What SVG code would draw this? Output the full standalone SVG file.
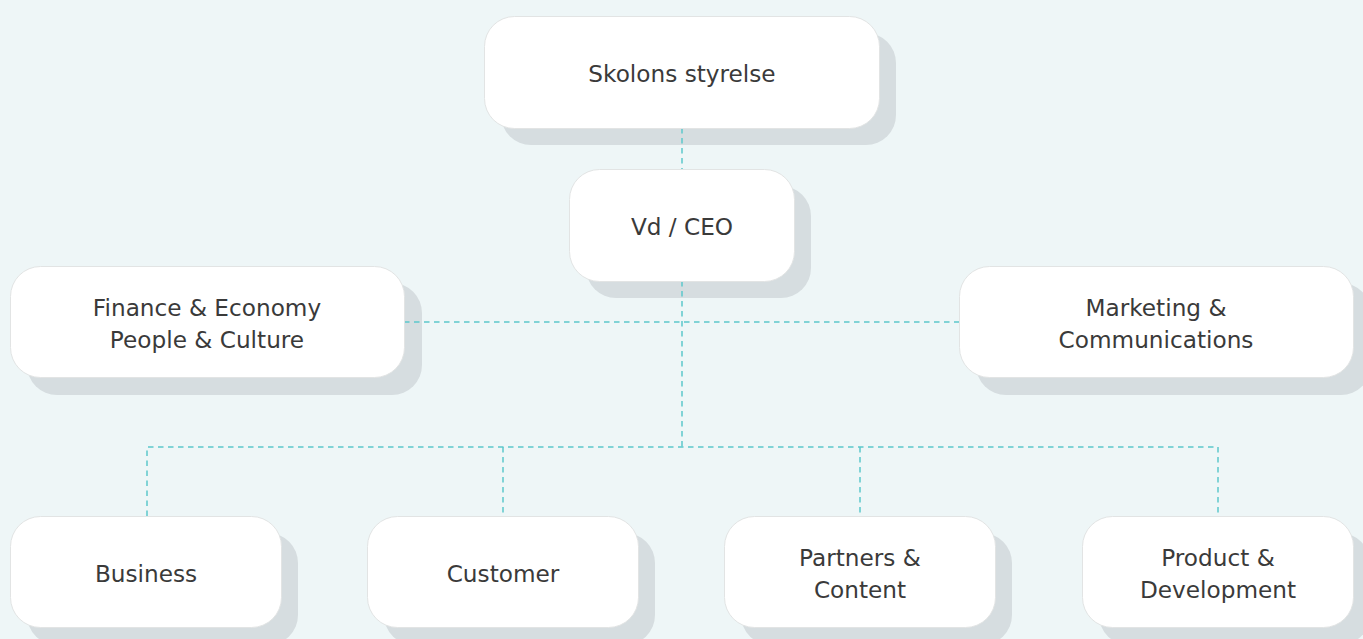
<svg xmlns="http://www.w3.org/2000/svg" width="1363" height="639" viewBox="0 0 1363 639">
<style>
.bg{fill:#eef6f7}
.sh{fill:#d6dde0}
.box{fill:#ffffff;stroke:#e2e4e4;stroke-width:1}
.lbl{font-family:"DejaVu Sans","Open Sans",sans-serif;font-size:23.2px;fill:#3a3a3a;text-anchor:middle}
.conn{fill:none;stroke:#5cc7cb;stroke-width:1.5;stroke-dasharray:5.5 4.5}
</style>
<rect class="bg" x="0" y="0" width="1363" height="639"/>
<g id="shadows">
<rect class="sh" x="501" y="33" width="395" height="112" rx="30"/>
<rect class="sh" x="586" y="186" width="225" height="112" rx="30"/>
<rect class="sh" x="27" y="283" width="395" height="112" rx="30"/>
<rect class="sh" x="976" y="283" width="395" height="112" rx="30"/>
<rect class="sh" x="27" y="533" width="271" height="112" rx="30"/>
<rect class="sh" x="384" y="533" width="271" height="112" rx="30"/>
<rect class="sh" x="741" y="533" width="271" height="112" rx="30"/>
<rect class="sh" x="1099" y="533" width="271" height="112" rx="30"/>
</g>
<g id="connectors">
<line class="conn" x1="682" y1="128" x2="682" y2="169"/>
<line class="conn" x1="682" y1="281" x2="682" y2="447"/>
<line class="conn" x1="404" y1="322" x2="960" y2="322"/>
<polyline class="conn" points="147,516 147,447 1218,447 1218,516"/>
<line class="conn" x1="503" y1="447" x2="503" y2="516"/>
<line class="conn" x1="860" y1="447" x2="860" y2="516"/>
</g>
<g id="n-board">
<rect class="box" x="484.5" y="16.5" width="395" height="112" rx="30"/>
<text class="lbl" x="682" y="82">Skolons styrelse</text>
</g>
<g id="n-ceo">
<rect class="box" x="569.5" y="169.5" width="225" height="112" rx="30"/>
<text class="lbl" x="682" y="235">Vd / CEO</text>
</g>
<g id="n-finance">
<rect class="box" x="10.5" y="266.5" width="394" height="111" rx="30"/>
<text class="lbl" x="207" y="316">Finance &amp; Economy</text>
<text class="lbl" x="207" y="348">People &amp; Culture</text>
</g>
<g id="n-marketing">
<rect class="box" x="959.5" y="266.5" width="394" height="111" rx="30"/>
<text class="lbl" x="1156" y="316">Marketing &amp;</text>
<text class="lbl" x="1156" y="348">Communications</text>
</g>
<g id="n-business">
<rect class="box" x="10.5" y="516.5" width="271" height="111" rx="30"/>
<text class="lbl" x="146" y="582">Business</text>
</g>
<g id="n-customer">
<rect class="box" x="367.5" y="516.5" width="271" height="111" rx="30"/>
<text class="lbl" x="503" y="582">Customer</text>
</g>
<g id="n-partners">
<rect class="box" x="724.5" y="516.5" width="271" height="111" rx="30"/>
<text class="lbl" x="860" y="566">Partners &amp;</text>
<text class="lbl" x="860" y="598">Content</text>
</g>
<g id="n-product">
<rect class="box" x="1082.5" y="516.5" width="271" height="111" rx="30"/>
<text class="lbl" x="1218" y="566">Product &amp;</text>
<text class="lbl" x="1218" y="598">Development</text>
</g>
</svg>
